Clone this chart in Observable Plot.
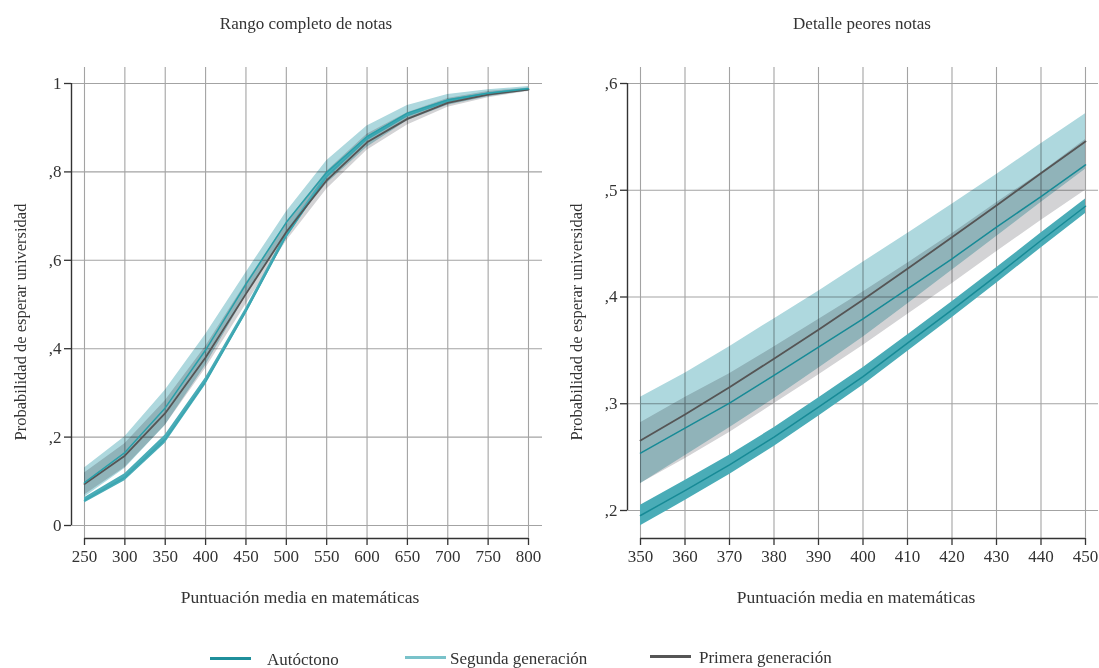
<!DOCTYPE html>
<html><head><meta charset="utf-8">
<script src="https://cdn.jsdelivr.net/npm/d3@7"></script>
<script src="https://cdn.jsdelivr.net/npm/@observablehq/plot@0.6"></script>
<style>
body{margin:0;background:#fff;}
#root{position:relative;width:1099px;height:668px;font-family:"Liberation Serif",serif;color:#333;overflow:hidden;background:#fff}
.abs{position:absolute;white-space:nowrap;line-height:1}
.plot{position:absolute;top:0}
</style></head>
<body><div id="root"></div>
<script>
// ---------- Data: left panel (full range) ----------
const xFull = [250, 300, 350, 400, 450, 500, 550, 600, 650, 700, 750, 800];
const autFull   = [0.057, 0.109, 0.195, 0.326, 0.485, 0.656, 0.790, 0.875, 0.928, 0.960, 0.977, 0.987];
const autFullLo = [0.051, 0.101, 0.186, 0.318, 0.478, 0.649, 0.784, 0.870, 0.924, 0.957, 0.975, 0.986];
const autFullHi = [0.063, 0.117, 0.205, 0.334, 0.492, 0.663, 0.796, 0.880, 0.932, 0.963, 0.979, 0.989];
const segFull   = [0.097, 0.165, 0.266, 0.397, 0.546, 0.686, 0.799, 0.880, 0.933, 0.963, 0.978, 0.988];
const segFullLo = [0.064, 0.129, 0.226, 0.362, 0.520, 0.663, 0.773, 0.856, 0.916, 0.951, 0.970, 0.983];
const segFullHi = [0.130, 0.201, 0.306, 0.432, 0.572, 0.709, 0.825, 0.904, 0.950, 0.975, 0.986, 0.993];
const priFull   = [0.094, 0.158, 0.254, 0.380, 0.524, 0.664, 0.781, 0.867, 0.920, 0.956, 0.975, 0.986];
const priFullLo = [0.069, 0.131, 0.226, 0.355, 0.500, 0.643, 0.761, 0.849, 0.906, 0.946, 0.968, 0.982];
const priFullHi = [0.119, 0.185, 0.282, 0.405, 0.548, 0.685, 0.801, 0.885, 0.934, 0.966, 0.982, 0.990];
const xTicksFull = [250, 300, 350, 400, 450, 500, 550, 600, 650, 700, 750, 800];
const yTicksFull = [0, 0.2, 0.4, 0.6, 0.8, 1];

// ---------- Data: right panel (detail of worst marks) ----------
const xDet = [350, 360, 370, 380, 390, 400, 410, 420, 430, 440, 450];
const autDet   = [0.1953, 0.2187, 0.2428, 0.2687, 0.2968, 0.3255, 0.3567, 0.3880, 0.4201, 0.4529, 0.4850];
const autDetLo = [0.1856, 0.2093, 0.2338, 0.2599, 0.2883, 0.3173, 0.3489, 0.3805, 0.4129, 0.4459, 0.4783];
const autDetHi = [0.2050, 0.2281, 0.2518, 0.2775, 0.3053, 0.3337, 0.3645, 0.3955, 0.4273, 0.4599, 0.4917];
const segDet   = [0.2656, 0.2899, 0.3155, 0.3421, 0.3693, 0.3974, 0.4264, 0.4560, 0.4857, 0.5160, 0.5457];
const segDetLo = [0.2251, 0.2512, 0.2775, 0.3047, 0.3333, 0.3622, 0.3934, 0.4250, 0.4567, 0.4885, 0.5197];
const segDetHi = [0.3061, 0.3286, 0.3535, 0.3795, 0.4053, 0.4326, 0.4594, 0.4870, 0.5147, 0.5435, 0.5717];
const priDet   = [0.2537, 0.2771, 0.3005, 0.3265, 0.3530, 0.3796, 0.4077, 0.4358, 0.4654, 0.4941, 0.5238];
const priDetLo = [0.2252, 0.2484, 0.2730, 0.2999, 0.3270, 0.3546, 0.3837, 0.4124, 0.4424, 0.4717, 0.5000];
const priDetHi = [0.2822, 0.3058, 0.3280, 0.3531, 0.3790, 0.4046, 0.4317, 0.4592, 0.4884, 0.5165, 0.5476];
const xTicksDet = [350, 360, 370, 380, 390, 400, 410, 420, 430, 440, 450];
const yTicksDet = [0.2, 0.3, 0.4, 0.5, 0.6];

// ---------- Text ----------
const titles = ["Rango completo de notas", "Detalle peores notas"];
const xTitle = "Puntuación media en matemáticas";
const yTitle = "Probabilidad de esperar universidad";
const legendNames = ["Autóctono", "Segunda generación", "Primera generación"];

// ---------- Styles ----------
const GRID = "#a3a3a3";
const AXIS = "#333333";
const TEAL_BAND = "#aed8de";
const GRAY_BAND = "#d3d3d5";
const AUT_BAND = "#4aacb7";
const AUT_LINE = "#178a96";
const SEG_LINE = "#2a9fa9";
const PRI_LINE = "#555555";
const legendColors = ["#1f8f9b", "#79c2ca", "#555555"];
const FONT = "Liberation Serif, serif";

const fmtY = d => Number.isInteger(d) ? String(d) : d.toFixed(1).replace(/^0\./, ",");
const rows = (xs, v, lo, hi) => xs.map((x, i) => ({x, v: v[i], lo: lo[i], hi: hi[i]}));

function panel(o) {
  const {xt, yt, aut, seg, pri, segStroke, priStroke} = o;
  return Plot.plot({
    width: o.width, height: 620,
    marginLeft: o.mL, marginRight: o.mR, marginTop: 67, marginBottom: 82,
    insetLeft: 13, insetRight: o.insR, insetTop: 16, insetBottom: o.insB,
    x: {domain: [xt[0], xt[xt.length - 1]]},
    y: {domain: [yt[0], yt[yt.length - 1]]},
    style: {fontFamily: FONT, fontSize: "17px", color: AXIS, background: "transparent"},
    marks: [
      Plot.gridX(xt, {stroke: GRID, strokeOpacity: 1, strokeWidth: 1.1}),
      Plot.gridY(yt, {stroke: GRID, strokeOpacity: 1, strokeWidth: 1.1}),
      Plot.areaY(seg, {x: "x", y1: "lo", y2: "hi", fill: TEAL_BAND, mixBlendMode: "multiply"}),
      Plot.areaY(pri, {x: "x", y1: "lo", y2: "hi", fill: GRAY_BAND, mixBlendMode: "multiply"}),
      Plot.areaY(aut, {x: "x", y1: "lo", y2: "hi", fill: AUT_BAND}),
      Plot.line(aut, {x: "x", y: "v", stroke: o.autStroke, strokeWidth: 1.5}),
      Plot.line(pri, {x: "x", y: "v", stroke: priStroke, strokeWidth: o.priW}),
      Plot.line(seg, {x: "x", y: "v", stroke: segStroke, strokeWidth: o.segW}),
      Plot.axisX(xt, {tickSize: 7, tickPadding: 4, label: null, fontSize: 17, stroke: AXIS, strokeWidth: 1.3}),
      Plot.axisY(yt, {tickSize: 7, tickPadding: 3, label: null, fontSize: 17, tickFormat: fmtY, stroke: AXIS, strokeWidth: 1.3}),
      Plot.ruleX([xt[0]], {y1: yt[0], y2: yt[yt.length - 1], dx: -13, stroke: AXIS, strokeWidth: 1.4}),
      Plot.ruleY([yt[0]], {x1: xt[0], x2: xt[xt.length - 1], dy: o.insB, stroke: AXIS, strokeWidth: 1.4})
    ]
  });
}

const root = document.getElementById("root");

const left = panel({
  width: 555, mL: 71, mR: 13, insR: 14, insB: 13,
  xt: xTicksFull, yt: yTicksFull,
  aut: rows(xFull, autFull, autFullLo, autFullHi),
  seg: rows(xFull, segFull, segFullLo, segFullHi),
  pri: rows(xFull, priFull, priFullLo, priFullHi),
  autStroke: "#3aa6b1", segStroke: SEG_LINE, priStroke: PRI_LINE, segW: 1.5, priW: 1.8
});
left.classList.add("plot"); left.style.left = "0px";
root.appendChild(left);

// In the detail panel of the original, the line colours of the two
// generations are swapped relative to their bands; reproduced as drawn.
const right = panel({
  width: 544, mL: 72, mR: 1, insR: 13, insB: 28,
  xt: xTicksDet, yt: yTicksDet,
  aut: rows(xDet, autDet, autDetLo, autDetHi),
  seg: rows(xDet, segDet, segDetLo, segDetHi),
  pri: rows(xDet, priDet, priDetLo, priDetHi),
  autStroke: AUT_LINE, segStroke: PRI_LINE, priStroke: AUT_LINE, segW: 1.8, priW: 1.5
});
right.classList.add("plot"); right.style.left = "555px";
root.appendChild(right);

function text(str, x, y, size, rotate) {
  const d = document.createElement("div");
  d.className = "abs";
  d.textContent = str;
  d.style.left = x + "px";
  d.style.top = y + "px";
  d.style.fontSize = size + "px";
  d.style.transform = "translate(-50%,-50%)" + (rotate ? " rotate(-90deg)" : "");
  root.appendChild(d);
  return d;
}
function leftText(str, x, y, size) {
  const d = document.createElement("div");
  d.className = "abs";
  d.textContent = str;
  d.style.left = x + "px";
  d.style.top = y + "px";
  d.style.fontSize = size + "px";
  d.style.transform = "translateY(-50%)";
  root.appendChild(d);
}

text(titles[0], 306, 23, 17);
text(titles[1], 862, 23, 17);
text(xTitle, 300, 598, 17.5);
text(xTitle, 856, 598, 17.5);
text(yTitle, 21, 322, 16.5, true);
text(yTitle, 577, 322, 16.5, true);

// Legend
const legendSwatchX = [210, 405, 650];
const legendTextX = [267, 450, 699];
const legendY = [658, 657, 656];
legendNames.forEach((name, i) => {
  const s = document.createElement("div");
  s.className = "abs";
  s.style.left = legendSwatchX[i] + "px";
  s.style.top = (legendY[i] - 1.5) + "px";
  s.style.width = "41px";
  s.style.height = "3px";
  s.style.background = legendColors[i];
  root.appendChild(s);
  leftText(name, legendTextX[i], legendY[i] + 1, 17);
});
</script>
</body></html>
